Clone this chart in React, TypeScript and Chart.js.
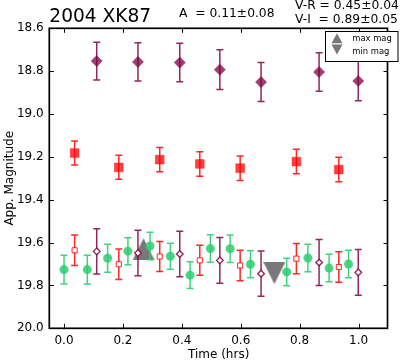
import React, { useEffect, useRef } from "react";
import { Chart, registerables } from "chart.js";

Chart.register(...registerables);

const FONT = "'DejaVu Sans', 'Liberation Sans', sans-serif";

// Filled purple diamonds (V) and open purple diamonds (V shifted)
const timeV = [0.111, 0.251, 0.393, 0.529, 0.669, 0.866, 0.999];
const magV = [18.753, 18.757, 18.76, 18.793, 18.851, 18.804, 18.846];
const errV = [0.088, 0.089, 0.09, 0.093, 0.091, 0.09, 0.092];
const magVShift = [19.641, 19.649, 19.653, 19.683, 19.745, 19.693, 19.739];
const errVShift = [0.106, 0.106, 0.106, 0.107, 0.106, 0.107, 0.107];

// Filled red squares (R) and open red squares (R shifted)
const timeR = [0.036, 0.186, 0.325, 0.461, 0.598, 0.789, 0.933];
const magR = [19.182, 19.249, 19.213, 19.233, 19.253, 19.222, 19.259];
const errR = [0.056, 0.056, 0.057, 0.057, 0.057, 0.057, 0.057];
const magRShift = [19.636, 19.701, 19.665, 19.683, 19.707, 19.675, 19.714];
const errRShift = [0.071, 0.071, 0.07, 0.07, 0.071, 0.071, 0.071];

// Green circles
const timeG = [0.0, 0.079, 0.148, 0.217, 0.292, 0.361, 0.428, 0.497, 0.564, 0.633, 0.756, 0.828, 0.9, 0.966];
const magG = [19.726, 19.726, 19.673, 19.64, 19.616, 19.664, 19.752, 19.628, 19.629, 19.701, 19.737, 19.672, 19.719, 19.7];
const errG = [0.067, 0.067, 0.065, 0.063, 0.064, 0.061, 0.062, 0.064, 0.064, 0.063, 0.064, 0.064, 0.064, 0.064];

// Max / min magnitude markers
const maxMagT = [0.27];
const maxMagM = [19.631];
const minMagT = [0.714];
const minMagM = [19.742];

const xTicks = [0.0, 0.2, 0.4, 0.6, 0.8, 1.0];
const yTicks = [18.6, 18.8, 19.0, 19.2, 19.4, 19.6, 19.8, 20.0];

const titleText = "2004 XK87";
const ampText = "A  = 0.11\u00b10.08";
const vrText = "V-R = 0.45\u00b10.04";
const viText = "V-I  = 0.89\u00b10.05";
const legendLabels = ["max mag", "min mag"];

const PURPLE = "rgba(128,0,64,0.75)";
const PURPLE_BAR = "rgba(128,0,64,0.85)";
const RED = "rgba(255,0,0,0.75)";
const RED_BAR = "rgba(255,0,0,0.85)";
const GREEN = "rgba(46,204,113,0.85)";
const GREEN_BAR = "rgba(46,204,113,0.9)";
const GRAY = "rgba(120,120,120,1)";

function pts(t: number[], m: number[]) {
  return t.map((x, i) => ({ x, y: m[i] }));
}

function triangleImage(up: boolean) {
  const c = document.createElement("canvas");
  c.width = 22;
  c.height = 22;
  const g = c.getContext("2d")!;
  g.fillStyle = GRAY;
  g.beginPath();
  if (up) {
    g.moveTo(11, 0);
    g.lineTo(22, 22);
    g.lineTo(0, 22);
  } else {
    g.moveTo(0, 0);
    g.lineTo(22, 0);
    g.lineTo(11, 22);
  }
  g.closePath();
  g.fill();
  return c;
}

const errorBarPlugin = {
  id: "errorBars",
  beforeDatasetDraw(chart: any, args: any) {
    const ds = chart.data.datasets[args.index] as any;
    if (!ds.errors) return;
    const { ctx } = chart;
    const xs = chart.scales.x;
    const ys = chart.scales.y;
    ctx.save();
    ctx.strokeStyle = ds.barColor;
    ctx.lineWidth = 1.5;
    ds.data.forEach((p: any, i: number) => {
      const e = ds.errors[i];
      const x = xs.getPixelForValue(p.x);
      const y1 = ys.getPixelForValue(p.y - e);
      const y2 = ys.getPixelForValue(p.y + e);
      ctx.beginPath();
      ctx.moveTo(x, y1);
      ctx.lineTo(x, y2);
      ctx.moveTo(x - 3.5, y1);
      ctx.lineTo(x + 3.5, y1);
      ctx.moveTo(x - 3.5, y2);
      ctx.lineTo(x + 3.5, y2);
      ctx.stroke();
    });
    ctx.restore();
  },
};

const decorPlugin = {
  id: "decor",
  afterDraw(chart: any) {
    const { ctx, chartArea } = chart;
    const xs = chart.scales.x;
    const ys = chart.scales.y;
    const { left, right, top, bottom } = chartArea;
    ctx.save();
    // inward ticks
    ctx.strokeStyle = "#000";
    ctx.lineWidth = 1;
    ctx.beginPath();
    xTicks.forEach((v) => {
      const x = Math.round(xs.getPixelForValue(v)) + 0.5;
      ctx.moveTo(x, bottom);
      ctx.lineTo(x, bottom - 4.5);
      ctx.moveTo(x, top);
      ctx.lineTo(x, top + 4.5);
    });
    yTicks.forEach((v) => {
      const y = Math.round(ys.getPixelForValue(v)) + 0.5;
      ctx.moveTo(left, y);
      ctx.lineTo(left + 4.5, y);
      ctx.moveTo(right, y);
      ctx.lineTo(right - 4.5, y);
    });
    ctx.stroke();
    // frame
    ctx.lineWidth = 1.7;
    ctx.strokeRect(left, top, right - left - 0.5, bottom - top);

    // legend
    const lx = 325.5, ly = 31.5, lw = 72.5, lh = 30;
    ctx.fillStyle = "#fff";
    ctx.fillRect(lx, ly, lw, lh);
    ctx.lineWidth = 1;
    ctx.strokeStyle = "#000";
    ctx.strokeRect(lx, ly, lw, lh);
    ctx.fillStyle = GRAY;
    ctx.beginPath();
    ctx.moveTo(337, 33.3);
    ctx.lineTo(342.5, 43.3);
    ctx.lineTo(331.5, 43.3);
    ctx.closePath();
    ctx.fill();
    ctx.beginPath();
    ctx.moveTo(331.5, 44.6);
    ctx.lineTo(342.5, 44.6);
    ctx.lineTo(337, 54.6);
    ctx.closePath();
    ctx.fill();
    ctx.fillStyle = "#000";
    ctx.font = `8.4px ${FONT}`;
    ctx.textBaseline = "middle";
    ctx.textAlign = "left";
    ctx.fillText(legendLabels[0], 352.3, 38.8);
    ctx.fillText(legendLabels[1], 352.3, 51.5);

    // header texts
    ctx.textBaseline = "alphabetic";
    ctx.font = `18.6px ${FONT}`;
    ctx.fillText(titleText, 49.3, 22);
    ctx.font = `12.3px ${FONT}`;
    ctx.fillText(ampText, 179, 17.3);
    ctx.fillText(vrText, 295, 9.3);
    ctx.fillText(viText, 295, 23.3);
    ctx.restore();
  },
};

export default function App() {
  const ref = useRef<HTMLCanvasElement>(null);

  useEffect(() => {
    document.body.style.margin = "0";
    const canvas = ref.current!;
    const upImg = triangleImage(true);
    const downImg = triangleImage(false);

    const chart = new Chart(canvas, {
      type: "scatter",
      data: {
        datasets: [
          {
            data: pts(timeV, magV),
            errors: errV,
            barColor: PURPLE_BAR,
            pointStyle: "rectRot",
            pointRadius: 5.6,
            backgroundColor: PURPLE,
            borderColor: PURPLE,
            borderWidth: 0.5,
            order: 1,
          } as any,
          {
            data: pts(timeR, magR),
            errors: errR,
            barColor: RED_BAR,
            pointStyle: "rect",
            pointRadius: 6.2,
            backgroundColor: RED,
            borderColor: RED,
            borderWidth: 0.5,
            order: 2,
          } as any,
          {
            data: pts(timeV, magVShift),
            errors: errVShift,
            barColor: PURPLE_BAR,
            pointStyle: "rectRot",
            pointRadius: 3.3,
            backgroundColor: "#fff",
            borderColor: PURPLE_BAR,
            borderWidth: 1.4,
            order: 3,
          } as any,
          {
            data: pts(timeR, magRShift),
            errors: errRShift,
            barColor: RED_BAR,
            pointStyle: "rect",
            pointRadius: 3.6,
            backgroundColor: "#fff",
            borderColor: RED_BAR,
            borderWidth: 1,
            order: 4,
          } as any,
          {
            data: pts(timeG, magG),
            errors: errG,
            barColor: GREEN_BAR,
            pointStyle: "circle",
            pointRadius: 4.5,
            backgroundColor: GREEN,
            borderColor: GREEN,
            borderWidth: 0,
            order: 5,
          } as any,
          {
            data: pts(maxMagT, maxMagM),
            pointStyle: upImg,
            pointRadius: 11,
            order: 10,
          } as any,
          {
            data: pts(minMagT, minMagM),
            pointStyle: downImg,
            pointRadius: 11,
            order: 11,
          } as any,
        ],
      },
      plugins: [errorBarPlugin, decorPlugin],
      options: {
        animation: false,
        responsive: false,
        devicePixelRatio: 1,
        events: [],
        layout: { padding: { top: 28.3, right: 0.5, left: 0, bottom: 0 } },
        plugins: {
          legend: { display: false },
          tooltip: { enabled: false },
          title: { display: false },
        },
        scales: {
          x: {
            type: "linear",
            min: -0.05,
            max: 1.1,
            afterBuildTicks: (s: any) => {
              s.ticks = xTicks.map((v) => ({ value: v }));
            },
            afterFit: (s: any) => {
              s.height = 33.7;
            },
            grid: { display: false, drawTicks: false },
            border: { display: false },
            ticks: {
              font: { family: FONT, size: 12 },
              color: "#000",
              padding: 5,
              maxRotation: 0,
              autoSkip: false,
              callback: (v: any) => Number(v).toFixed(1),
            },
            title: {
              display: true,
              text: "Time (hrs)",
              font: { family: FONT, size: 12 },
              color: "#000",
              padding: { top: 0, bottom: -0.5 },
            },
          },
          y: {
            type: "linear",
            reverse: true,
            min: 18.6,
            max: 20.0,
            afterBuildTicks: (s: any) => {
              s.ticks = yTicks.map((v) => ({ value: v }));
            },
            afterFit: (s: any) => {
              s.width = 49.3;
            },
            grid: { display: false, drawTicks: false },
            border: { display: false },
            ticks: {
              font: { family: FONT, size: 12 },
              color: "#000",
              padding: 5.6,
              autoSkip: false,
              callback: (v: any) => Number(v).toFixed(1),
            },
            title: {
              display: true,
              text: "App. Magnitude",
              font: { family: FONT, size: 12 },
              color: "#000",
              padding: { top: 3, bottom: 0 },
            },
          },
        },
      } as any,
    });
    return () => chart.destroy();
  }, []);

  return (
    <div style={{ width: 400, height: 362 }}>
      <canvas ref={ref} width={400} height={362} style={{ display: "block", width: 400, height: 362 }} />
    </div>
  );
}
